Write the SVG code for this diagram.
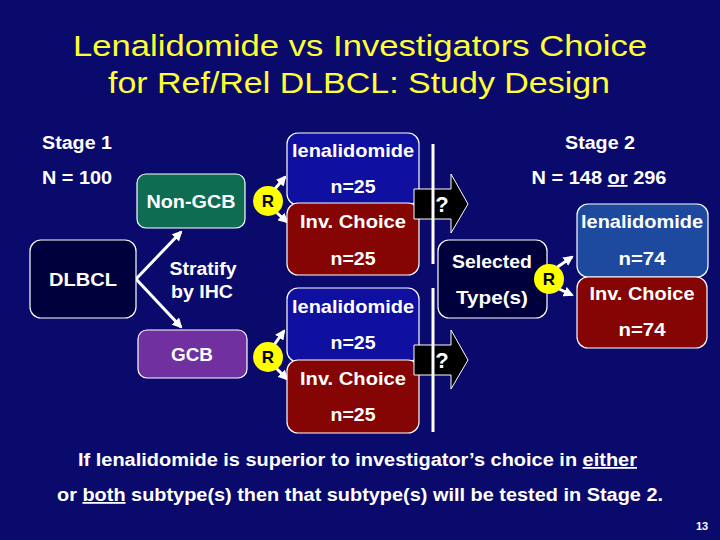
<svg xmlns="http://www.w3.org/2000/svg" width="720" height="540" viewBox="0 0 720 540">
<defs>
<marker id="ah" viewBox="0 0 10 10" refX="8" refY="5" markerWidth="3.4" markerHeight="3.4" orient="auto" markerUnits="strokeWidth">
<path d="M0,0 L10,5 L0,10 z" fill="#ffffff"/>
</marker>
</defs>
<style>
text{font-family:"Liberation Sans",Arial,sans-serif;fill:#ffffff;font-weight:bold}
.t{fill:#ffff33;font-weight:normal;font-size:29px}
.n{font-size:18px}
.b{font-size:19px}
.box{stroke:#ffffff;stroke-width:1.2}
.blue{fill:#0f0fa0}
.red{fill:#850404}
.blue2{fill:#1d4a9e}
.dark{fill:#00003c}
.con{stroke:#ffffff;stroke-width:3;fill:none}
.r{fill:#ffff00}
.rt{fill:#000000;font-size:17px}
.q{fill:#000000;stroke:#ffffff;stroke-width:1}
.qt{font-size:22px}
</style>
<rect x="0" y="0" width="720" height="540" fill="#0a0a6c"/>
<g id="title">
<text class="t" x="360" y="56" text-anchor="middle" textLength="574" lengthAdjust="spacingAndGlyphs">Lenalidomide vs Investigators Choice</text>
<text class="t" x="359" y="93" text-anchor="middle" textLength="502" lengthAdjust="spacingAndGlyphs">for Ref/Rel DLBCL: Study Design</text>
</g>
<g id="stage1">
<text class="n" x="42" y="149" textLength="70" lengthAdjust="spacingAndGlyphs">Stage 1</text>
<text class="n" x="42" y="184" textLength="70" lengthAdjust="spacingAndGlyphs">N = 100</text>
</g>
<g id="stage2">
<text class="n" x="600" y="149" text-anchor="middle" textLength="70" lengthAdjust="spacingAndGlyphs">Stage 2</text>
<text class="n" x="599" y="184" text-anchor="middle" textLength="135" lengthAdjust="spacingAndGlyphs">N = 148 <tspan text-decoration="underline">or</tspan> 296</text>
</g>
<g id="connectors">
<line class="con" x1="136" y1="279" x2="181" y2="232" marker-end="url(#ah)"/>
<line class="con" x1="136" y1="279" x2="181" y2="327" marker-end="url(#ah)"/>
<line class="con" x1="274" y1="190" x2="285" y2="177" marker-end="url(#ah)"/>
<line class="con" x1="276" y1="212" x2="287" y2="222" marker-end="url(#ah)"/>
<line class="con" x1="274" y1="345" x2="284" y2="331" marker-end="url(#ah)"/>
<line class="con" x1="276" y1="368" x2="287" y2="379" marker-end="url(#ah)"/>
<line class="con" x1="556" y1="268" x2="572" y2="257" marker-end="url(#ah)"/>
<line class="con" x1="557" y1="288" x2="572" y2="295" marker-end="url(#ah)"/>
</g>
<g id="dlbcl">
<rect class="box dark" x="30" y="240" width="106" height="78" rx="11"/>
<text class="b" x="83" y="286" text-anchor="middle" textLength="68" lengthAdjust="spacingAndGlyphs">DLBCL</text>
</g>
<g id="stratify">
<text class="n" x="203" y="275" text-anchor="middle" textLength="67" lengthAdjust="spacingAndGlyphs">Stratify</text>
<text class="n" x="202" y="298" text-anchor="middle" textLength="62" lengthAdjust="spacingAndGlyphs">by IHC</text>
</g>
<g id="nongcb">
<rect class="box" x="137" y="174" width="108" height="54" rx="9" fill="#0e6c52"/>
<text class="b" x="191" y="208" text-anchor="middle" textLength="89" lengthAdjust="spacingAndGlyphs">Non-GCB</text>
</g>
<g id="gcb">
<rect class="box" x="138" y="330" width="109" height="48" rx="9" fill="#7030a0"/>
<text class="b" x="192" y="361" text-anchor="middle" textLength="42" lengthAdjust="spacingAndGlyphs">GCB</text>
</g>
<g id="len1">
<rect class="box blue" x="287" y="133" width="132" height="72" rx="11"/>
<text class="b" x="353" y="157" text-anchor="middle" textLength="122" lengthAdjust="spacingAndGlyphs">lenalidomide</text>
<text class="b" x="353" y="193" text-anchor="middle" textLength="45" lengthAdjust="spacingAndGlyphs">n=25</text>
</g>
<g id="inv1">
<rect class="box red" x="287" y="203" width="132" height="72" rx="11"/>
<text class="b" x="353" y="228" text-anchor="middle" textLength="106" lengthAdjust="spacingAndGlyphs">Inv. Choice</text>
<text class="b" x="353" y="265" text-anchor="middle" textLength="45" lengthAdjust="spacingAndGlyphs">n=25</text>
</g>
<g id="len2">
<rect class="box blue" x="287" y="288" width="132" height="74" rx="11"/>
<text class="b" x="353" y="313" text-anchor="middle" textLength="122" lengthAdjust="spacingAndGlyphs">lenalidomide</text>
<text class="b" x="353" y="349" text-anchor="middle" textLength="45" lengthAdjust="spacingAndGlyphs">n=25</text>
</g>
<g id="inv2">
<rect class="box red" x="287" y="360" width="132" height="73" rx="11"/>
<text class="b" x="353" y="385" text-anchor="middle" textLength="106" lengthAdjust="spacingAndGlyphs">Inv. Choice</text>
<text class="b" x="353" y="421" text-anchor="middle" textLength="45" lengthAdjust="spacingAndGlyphs">n=25</text>
</g>
<g id="r1">
<circle class="r" cx="268" cy="201" r="15"/>
<text class="rt" x="268" y="207" text-anchor="middle">R</text>
</g>
<g id="r2">
<circle class="r" cx="268" cy="357" r="15"/>
<text class="rt" x="268" y="363" text-anchor="middle">R</text>
</g>
<g id="q1">
<polygon class="q" points="414,189 451,189 451,174 468,204 451,233 451,219 414,219"/>
</g>
<g id="q2">
<polygon class="q" points="414,345 451,345 451,330 468,360 451,389 451,375 414,375"/>
</g>
<g id="dividers">
<line x1="433" y1="144" x2="433" y2="264" stroke="#ffffff" stroke-width="3"/>
<line x1="433" y1="288" x2="433" y2="432" stroke="#ffffff" stroke-width="3"/>
</g>
<g id="qmarks">
<text class="qt" x="442" y="212" text-anchor="middle">?</text>
<text class="qt" x="442" y="368" text-anchor="middle">?</text>
</g>
<g id="selected">
<rect class="box dark" x="438" y="240" width="109" height="78" rx="11"/>
<text class="b" x="492" y="268" text-anchor="middle" textLength="80" lengthAdjust="spacingAndGlyphs">Selected</text>
<text class="b" x="492" y="304" text-anchor="middle" textLength="72" lengthAdjust="spacingAndGlyphs">Type(s)</text>
</g>
<g id="r3">
<circle class="r" cx="549" cy="279" r="15"/>
<text class="rt" x="549" y="285" text-anchor="middle">R</text>
</g>
<g id="len3">
<rect class="box blue2" x="577" y="204" width="131" height="73" rx="11"/>
<text class="b" x="642" y="228" text-anchor="middle" textLength="122" lengthAdjust="spacingAndGlyphs">lenalidomide</text>
<text class="b" x="642" y="265" text-anchor="middle" textLength="47" lengthAdjust="spacingAndGlyphs">n=74</text>
</g>
<g id="inv3">
<rect class="box red" x="577" y="277" width="130" height="71" rx="11"/>
<text class="b" x="642" y="300" text-anchor="middle" textLength="105" lengthAdjust="spacingAndGlyphs">Inv. Choice</text>
<text class="b" x="642" y="336" text-anchor="middle" textLength="47" lengthAdjust="spacingAndGlyphs">n=74</text>
</g>
<g id="note">
<text class="n" x="78" y="466" textLength="559" lengthAdjust="spacingAndGlyphs">If lenalidomide is superior to investigator’s choice in <tspan text-decoration="underline">either</tspan></text>
<text class="n" x="57" y="501" textLength="606" lengthAdjust="spacingAndGlyphs">or <tspan text-decoration="underline">both</tspan> subtype(s) then that subtype(s) will be tested in Stage 2.</text>
<text x="696" y="530" style="font-size:11px">13</text>
</g>
</svg>
